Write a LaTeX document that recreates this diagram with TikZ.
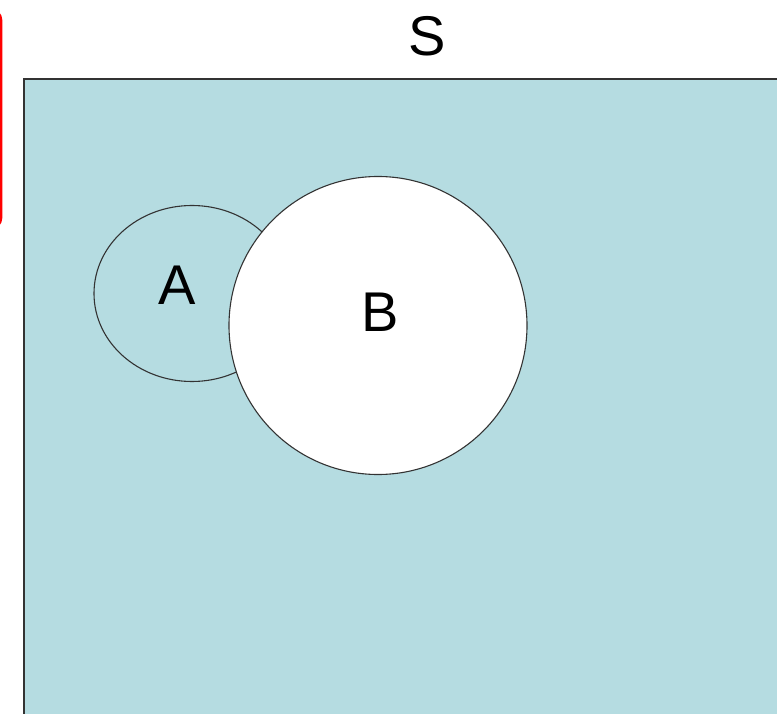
\documentclass[tikz,border=0pt]{standalone}
\usepackage{fontspec}
\setmainfont{Liberation Sans}
\definecolor{setfill}{HTML}{B5DCE1}
\begin{document}
\begin{tikzpicture}[x=1pt,y=-1pt,
  lbl/.style={font=\fontsize{56}{56}\selectfont, text=black, inner sep=0pt},
  outline/.style={draw=black!80, line width=1.1pt}]
\useasboundingbox (0,0) rectangle (777,714);
\fill[white] (0,0) rectangle (777,714);
% universe rectangle
\path[fill=setfill, outline] (24,79) rectangle (790,730);
% ellipse A
\path[outline] (192,293.5) ellipse [x radius=98, y radius=88];
\node[lbl] (A) at (177,285) {A};
% circle B
\path[fill=white, outline] (378,325.5) circle [radius=149];
\node[lbl] (B) at (380,312) {B};
% label S
\node[lbl] (S) at (427,36) {S};
% red edge at left
\draw[red, line width=2.6pt, rounded corners=10pt] (-14,10) -- (1,10) -- (1,228) -- (-14,228);
\end{tikzpicture}
\end{document}
